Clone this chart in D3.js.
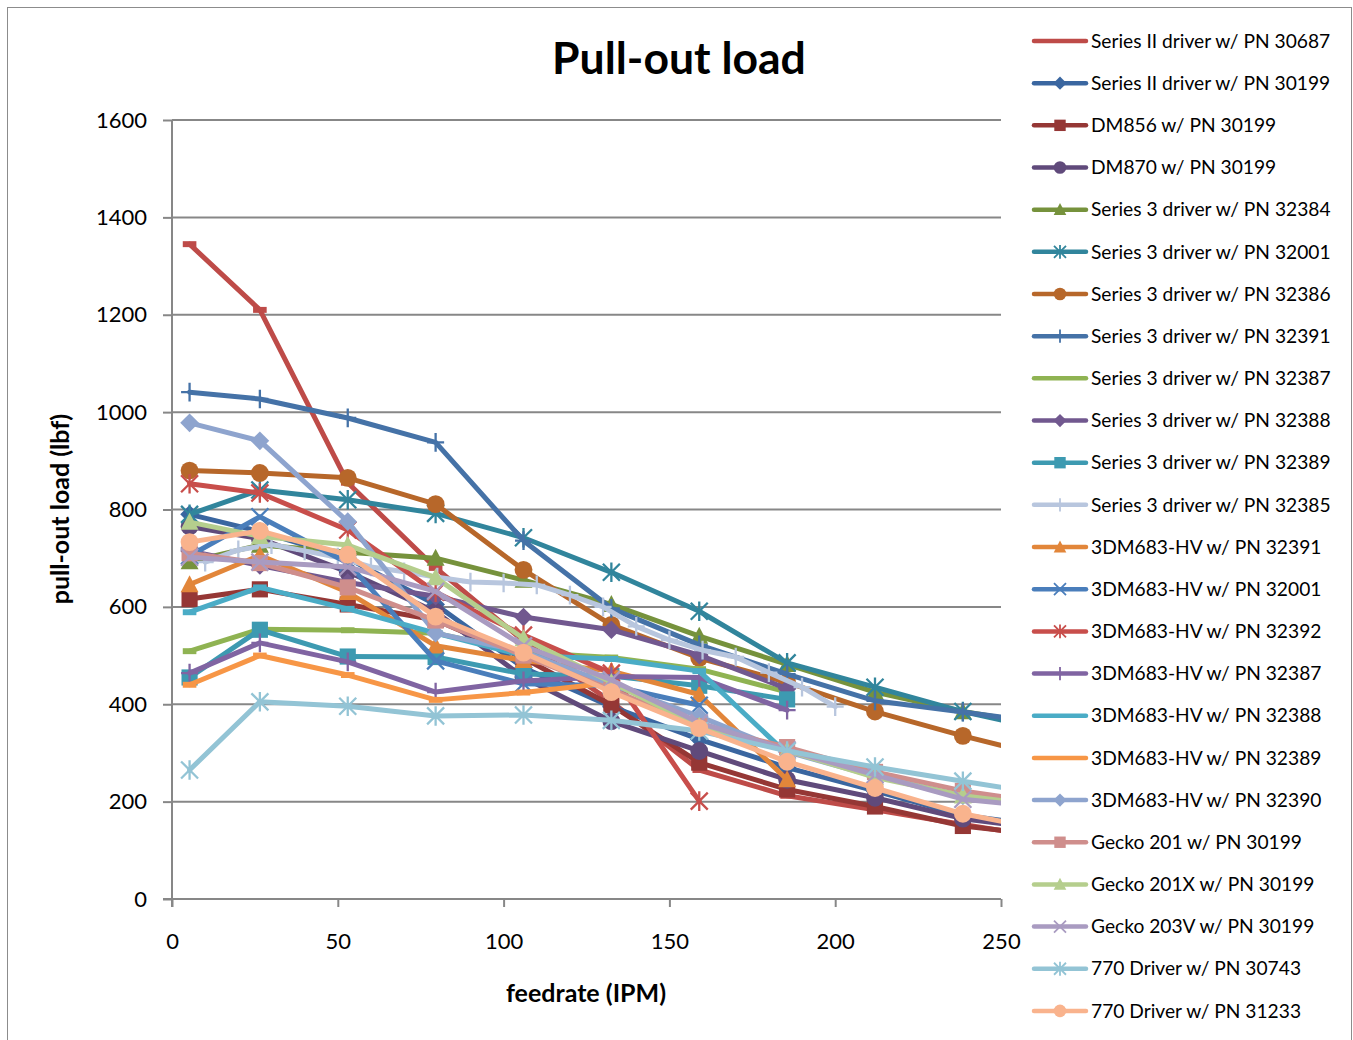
<!DOCTYPE html>
<html><head><meta charset="utf-8">
<script src="https://cdn.jsdelivr.net/npm/d3@7"></script>
<style>
body{margin:0;background:#fff}
svg{display:block}
text{font-family:Lato,"Open Sans","DejaVu Sans",sans-serif;fill:#000}
</style>
</head><body>
<svg id="chart" width="1353" height="1040"></svg>
<script>
// ---------------- DATA ----------------
const feedrate = [5.3, 26.5, 53, 79.5, 106, 132.5, 159, 185.5, 212, 238.5, 265];
const feedrate10 = [10, 20, 30, 40, 50, 60, 70, 80, 90, 100, 110, 120, 130, 140, 150, 160, 170, 180, 190, 200];
const yTickValues = [0, 200, 400, 600, 800, 1000, 1200, 1400, 1600];
const xTickValues = [0, 50, 100, 150, 200, 250];

const seriesNames = [
  "Series II driver w/ PN 30687",
  "Series II driver w/ PN 30199",
  "DM856 w/ PN 30199",
  "DM870 w/ PN 30199",
  "Series 3 driver w/ PN 32384",
  "Series 3 driver w/ PN 32001",
  "Series 3 driver w/ PN 32386",
  "Series 3 driver w/ PN 32391",
  "Series 3 driver w/ PN 32387",
  "Series 3 driver w/ PN 32388",
  "Series 3 driver w/ PN 32389",
  "Series 3 driver w/ PN 32385",
  "3DM683-HV w/ PN 32391",
  "3DM683-HV w/ PN 32001",
  "3DM683-HV w/ PN 32392",
  "3DM683-HV w/ PN 32387",
  "3DM683-HV w/ PN 32388",
  "3DM683-HV w/ PN 32389",
  "3DM683-HV w/ PN 32390",
  "Gecko 201 w/ PN 30199",
  "Gecko 201X w/ PN 30199",
  "Gecko 203V w/ PN 30199",
  "770 Driver w/ PN 30743",
  "770 Driver w/ PN 31233"
];

const s01 = [1345, 1210, 855, 680, 530, 405, 265, 212, 183, 153, 125];
const s02 = [790, 755, 700, 605, 475, 395, 328, 270, 222, 172, 148];
const s03 = [616, 636, 605, 573, 495, 398, 280, 225, 190, 150, 130];
const s04 = [765, 740, 672, 590, 455, 365, 304, 245, 208, 165, 142];
const s05 = [693, 727, 712, 700, 655, 605, 540, 482, 425, 385, 355];
const s06 = [790, 840, 820, 792, 742, 671, 591, 485, 435, 385, 345];
const s07 = [880, 875, 865, 811, 676, 563, 495, 445, 385, 335, 290];
const s08 = [1041, 1027, 988, 938, 736, 597, 522, 462, 407, 384, 360];
const s09 = [509, 554, 552, 546, 507, 496, 472, 425];
const s10 = [715, 685, 650, 622, 579, 553, 501, 432];
const s11 = [455, 553, 498, 497, 462, 458, 438, 410];
const s12 = [692, 717, 728, 715, 702, 682, 672, 661, 651, 649, 645, 624, 600, 560, 532, 511, 497, 465, 435, 395];
const s13 = [646, 706, 630, 520, 490, 468, 420, 245];
const s14 = [705, 785, 690, 489, 442, 438, 398];
const s15 = [853, 834, 758, 630, 542, 464, 201];
const s16 = [464, 526, 487, 425, 448, 457, 455, 388];
const s17 = [589, 640, 596, 546, 500, 493, 468, 298];
const s18 = [440, 500, 460, 409, 424, 444];
const s19 = [978, 941, 775, 546, 508, 440, 375, 302, 252, 212, 190];
const s20 = [710, 690, 640, 572, 500, 430, 355, 312, 261, 222, 195];
const s21 = [774, 745, 727, 660, 535, 445, 355, 305, 250, 212, 190];
const s22 = [702, 692, 682, 632, 520, 450, 362, 306, 255, 205, 187];
const s23 = [265, 405, 396, 376, 378, 367, 345, 304, 271, 242, 213];
const s24 = [733, 756, 707, 580, 506, 425, 351, 282, 228, 175, 140];

const seriesValues = [s01, s02, s03, s04, s05, s06, s07, s08, s09, s10, s11, s12,
  s13, s14, s15, s16, s17, s18, s19, s20, s21, s22, s23, s24];
const seriesXValues = seriesValues.map((v, i) => i === 11 ? feedrate10 : feedrate);

// ---------------- STYLE ----------------
const seriesColors = [
  "#BE4B48", "#3A66A0", "#953735", "#604A7B", "#76923C", "#31859C",
  "#B7672A", "#4572A7", "#8FB352", "#71588F", "#3D9AB1", "#B8C6DE",
  "#E2863A", "#4A7EBB", "#C84E4B", "#8064A2", "#4AACC6", "#F79646",
  "#8EA4CE", "#CF8E8C", "#B5CE8D", "#A99BC1", "#93C4D5", "#F9B38D"
];
const seriesMarkers = [
  "dash", "diamond", "square", "circle", "triangle", "star",
  "circle", "plus", "dash", "diamond", "square", "plus",
  "triangle", "x", "star", "plus", "dash", "dash",
  "diamond", "square", "triangle", "x", "star", "circle"
];

const W = 1353, H = 1040;
const plot = {left: 172, right: 1001, top: 120, bottom: 899};
const gridColor = "#878787";

const svg = d3.select("#chart");

// outer chart border
svg.append("rect").attr("x", 7.5).attr("y", 7.5).attr("width", 1344).attr("height", 1045)
  .attr("fill", "none").attr("stroke", "#8c8c8c").attr("stroke-width", 1);

const x = d3.scaleLinear().domain([0, 250]).range([plot.left, plot.right]);
const y = d3.scaleLinear().domain([0, 1600]).range([plot.bottom, plot.top]);

// gridlines
svg.append("g").selectAll("line").data(yTickValues.filter(d => d > 0)).join("line")
  .attr("x1", plot.left).attr("x2", plot.right)
  .attr("y1", d => y(d)).attr("y2", d => y(d))
  .attr("stroke", gridColor).attr("stroke-width", 2);

// y axis
const yAxis = svg.append("g").attr("transform", `translate(${plot.left},0)`)
  .call(d3.axisLeft(y).tickValues(yTickValues).tickSize(9).tickPadding(16).tickFormat(d3.format("d")));
yAxis.select(".domain").remove();
yAxis.selectAll(".tick line").attr("stroke", gridColor).attr("stroke-width", 2);
yAxis.selectAll(".tick text").style("font-size", "22px").attr("fill", "#000");

// x axis
const xAxis = svg.append("g").attr("transform", `translate(0,${plot.bottom})`)
  .call(d3.axisBottom(x).tickValues(xTickValues).tickSize(8).tickPadding(26).tickFormat(d3.format("d")));
xAxis.select(".domain").remove();
xAxis.selectAll(".tick line").attr("stroke", gridColor).attr("stroke-width", 2);
xAxis.selectAll(".tick text").style("font-size", "22px").attr("fill", "#000");

// axis lines
svg.append("line").attr("x1", plot.left).attr("x2", plot.left).attr("y1", plot.top).attr("y2", plot.bottom + 8)
  .attr("stroke", gridColor).attr("stroke-width", 2);
svg.append("line").attr("x1", plot.left - 9).attr("x2", plot.right).attr("y1", plot.bottom).attr("y2", plot.bottom)
  .attr("stroke", gridColor).attr("stroke-width", 2);

// clip
svg.append("defs").append("clipPath").attr("id", "plotclip")
  .append("rect").attr("x", 0).attr("y", 0).attr("width", plot.right).attr("height", H);

// marker drawing
function drawMarker(g, type, cx, cy, color, s) {
  const sw = s > 6 ? 2.3 : 1.8;
  switch (type) {
    case "circle":
      g.append("circle").attr("cx", cx).attr("cy", cy).attr("r", s * 1.05).attr("fill", color);
      break;
    case "square":
      g.append("rect").attr("x", cx - s * 0.95).attr("y", cy - s * 0.95)
        .attr("width", s * 1.9).attr("height", s * 1.9).attr("fill", color);
      break;
    case "diamond":
      g.append("path").attr("d", `M${cx},${cy - s * 1.1}L${cx + s * 1.1},${cy}L${cx},${cy + s * 1.1}L${cx - s * 1.1},${cy}Z`)
        .attr("fill", color);
      break;
    case "triangle":
      g.append("path").attr("d", `M${cx},${cy - s * 1.1}L${cx + s * 1.05},${cy + s * 0.9}L${cx - s * 1.05},${cy + s * 0.9}Z`)
        .attr("fill", color);
      break;
    case "dash":
      g.append("rect").attr("x", cx - s * 0.8).attr("y", cy - s * 0.35)
        .attr("width", s * 1.6).attr("height", s * 0.7).attr("fill", color);
      break;
    case "x":
      g.append("path").attr("d", `M${cx - s},${cy - s}L${cx + s},${cy + s}M${cx - s},${cy + s}L${cx + s},${cy - s}`)
        .attr("stroke", color).attr("stroke-width", sw).attr("fill", "none");
      break;
    case "star":
      g.append("path").attr("d", `M${cx - s},${cy - s}L${cx + s},${cy + s}M${cx - s},${cy + s}L${cx + s},${cy - s}M${cx},${cy - s * 1.15}L${cx},${cy + s * 1.15}`)
        .attr("stroke", color).attr("stroke-width", sw).attr("fill", "none");
      break;
    case "plus":
      g.append("path").attr("d", `M${cx - s},${cy}L${cx + s},${cy}M${cx},${cy - s * 1.1}L${cx},${cy + s * 1.1}`)
        .attr("stroke", color).attr("stroke-width", sw).attr("fill", "none");
      break;
  }
}

// series
const series = seriesNames.map((name, i) => ({
  name, color: seriesColors[i], marker: seriesMarkers[i],
  points: seriesValues[i].map((v, j) => ({x: seriesXValues[i][j], y: v}))
}));

const line = d3.line().x(d => x(d.x)).y(d => y(d.y));
const plotG = svg.append("g").attr("clip-path", "url(#plotclip)");
series.forEach(s => {
  const g = plotG.append("g");
  g.append("path").datum(s.points).attr("d", line)
    .attr("fill", "none").attr("stroke", s.color).attr("stroke-width", 5)
    .attr("stroke-linejoin", "round").attr("stroke-linecap", "round");
  s.points.forEach(p => drawMarker(g, s.marker, x(p.x), y(p.y), s.color, 8.5));
});

// title
svg.append("text").attr("x", 679).attr("y", 74).attr("text-anchor", "middle")
  .style("font-size", "44.5px").style("font-weight", "bold").text("Pull-out load");

// axis titles
svg.append("text").attr("x", 586).attr("y", 1002).attr("text-anchor", "middle")
  .style("font-size", "25px").style("font-weight", "bold").text("feedrate (IPM)");
svg.append("text").attr("transform", "translate(69,509) rotate(-90)").attr("text-anchor", "middle")
  .style("font-size", "25px").style("font-weight", "bold").text("pull-out load (lbf)");

// legend
const legend = svg.append("g");
series.forEach((s, i) => {
  const ly = 41 + i * 42.17;
  const g = legend.append("g");
  g.append("line").attr("x1", 1034).attr("x2", 1086).attr("y1", ly).attr("y2", ly)
    .attr("stroke", s.color).attr("stroke-width", 4.5).attr("stroke-linecap", "round");
  if (s.marker !== "dash") drawMarker(g, s.marker, 1060, ly, s.color, 6);
  g.append("text").attr("x", 1091).attr("y", ly).attr("dy", "0.35em")
    .style("font-size", "19.2px").text(s.name);
});
</script>
</body></html>
